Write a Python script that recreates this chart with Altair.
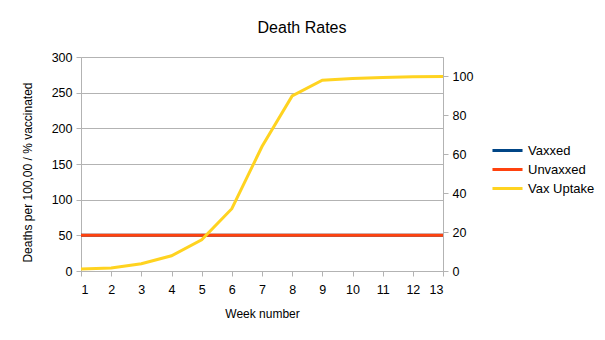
import altair as alt
import pandas as pd

weeks = [1, 2, 3, 4, 5, 6, 7, 8, 9, 10, 11, 12, 13]
vaxxed = [50, 50, 50, 50, 50, 50, 50, 50, 50, 50, 50, 50, 50]
unvaxxed = [50, 50, 50, 50, 50, 50, 50, 50, 50, 50, 50, 50, 50]
vax_uptake = [1, 1.5, 3.7, 7.8, 16, 32, 64, 90, 98.1, 99, 99.5, 99.9, 100]

series_names = ["Vaxxed", "Unvaxxed", "Vax Uptake"]
series_colors = ["#004586", "#ff420e", "#ffd320"]

left_ticks = [0, 50, 100, 150, 200, 250, 300]
right_ticks = [0, 20, 40, 60, 80, 100]

left_df = pd.DataFrame(
    {"week": weeks * 2,
     "value": vaxxed + unvaxxed,
     "series": ["Vaxxed"] * len(weeks) + ["Unvaxxed"] * len(weeks),
     "order": [0] * len(weeks) + [1] * len(weeks)}
)
right_df = pd.DataFrame(
    {"week": weeks, "value": vax_uptake, "series": ["Vax Uptake"] * len(weeks)}
)

FONT = "Liberation Sans"

color = alt.Color(
    "series:N",
    scale=alt.Scale(domain=series_names, range=series_colors),
    legend=alt.Legend(
        title=None,
        orient="none",
        legendX=416,
        legendY=83,
        symbolType="M-1.67,0H1.67",
        symbolSize=324,
        symbolStrokeWidth=3,
        labelFontSize=13,
        labelFont=FONT,
        labelColor="#000000",
        labelOffset=10,
        rowPadding=1,
        padding=0,
    ),
)

x = alt.X(
    "week:Q",
    scale=alt.Scale(domain=[1, 13], nice=False, zero=False),
    axis=alt.Axis(
        title="Week number",
        values=weeks,
        format="d",
        grid=False,
        domainColor="#b3b3b3",
        tickColor="#b3b3b3",
        tickSize=5,
        labelPadding=7,
        labelFontSize=12.5,
        labelFont=FONT,
        labelColor="#000000",
        titleFont=FONT,
        titleFontSize=12,
        titleFontWeight="normal",
        titleColor="#000000",
        titleY=46,
        titleBaseline="alphabetic",
    ),
)

left = alt.Chart(left_df).mark_line(strokeWidth=3).encode(
    x=x,
    y=alt.Y(
        "value:Q",
        scale=alt.Scale(domain=[0, 300], nice=False),
        axis=alt.Axis(
            title="Deaths per 100,00 / % vaccinated",
            values=left_ticks,
            grid=True,
            gridColor="#b3b3b3",
            domainColor="#b3b3b3",
            tickColor="#b3b3b3",
            tickSize=5,
            labelPadding=4,
            labelFontSize=12.5,
            labelFont=FONT,
            labelColor="#000000",
            titleFont=FONT,
            titleFontSize=12,
            titleFontWeight="normal",
            titleColor="#000000",
            titleX=-49.5,
            titleY=115,
            titleAngle=-90,
            titleAlign="center",
            titleBaseline="alphabetic",
        ),
    ),
    color=color,
    order="order:Q",
)

right = alt.Chart(right_df).mark_line(strokeWidth=3).encode(
    x=x,
    y=alt.Y(
        "value:Q",
        scale=alt.Scale(domain=[0, 110], nice=False),
        axis=alt.Axis(
            title=None,
            orient="right",
            values=right_ticks,
            grid=False,
            domainColor="#b3b3b3",
            tickColor="#b3b3b3",
            tickSize=5,
            labelPadding=4,
            labelFontSize=12.5,
            labelFont=FONT,
            labelColor="#000000",
        ),
    ),
    color=color,
)

chart = (
    alt.layer(left, right)
    .resolve_scale(y="independent")
    .properties(
        width=362,
        height=214,
        autosize=alt.AutoSizeParams(type="none"),
        padding={"left": 81, "top": 57, "right": 162, "bottom": 69},
        title=alt.TitleParams(
            "Death Rates",
            font=FONT,
            fontSize=16,
            fontWeight="normal",
            color="#000000",
            anchor="middle",
            dx=40,
            offset=15,
        ),
    )
    .configure_view(stroke=None)
    .configure(background="#ffffff")
)

chart.save("out.html", embed_options={"renderer": "svg", "actions": False})
